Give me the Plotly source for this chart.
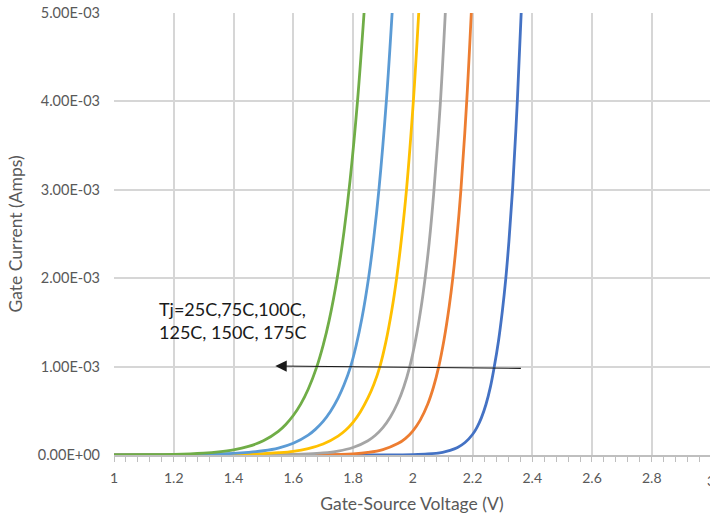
import plotly.graph_objects as go

# Gate current vs gate-source voltage, one curve per junction temperature.
# Currents are in milliamps here and converted to amps below.
v_25 = [1.00, 1.20, 1.40, 1.60, 1.80, 1.90, 2.00, 2.05, 2.10, 2.125, 2.15, 2.175, 2.20, 2.215, 2.23, 2.245, 2.26, 2.273, 2.287, 2.300, 2.311, 2.322, 2.334, 2.350, 2.363]
ma_25 = [0.0, 0.0, 0.0, 0.0, 0.0001, 0.0006, 0.0043, 0.0116, 0.031, 0.052, 0.085, 0.141, 0.232, 0.313, 0.423, 0.571, 0.771, 1.00, 1.29, 1.63, 1.98, 2.42, 3.00, 4.00, 5.00]

v_75 = [1.00, 1.20, 1.40, 1.50, 1.60, 1.70, 1.80, 1.85, 1.90, 1.95, 1.975, 2.00, 2.025, 2.05, 2.07, 2.087, 2.105, 2.122, 2.134, 2.147, 2.161, 2.181, 2.196]
ma_75 = [0.0, 0.0, 0.0, 0.0002, 0.0007, 0.003, 0.0135, 0.029, 0.061, 0.129, 0.186, 0.271, 0.395, 0.574, 0.775, 1.00, 1.31, 1.68, 2.00, 2.43, 2.99, 4.02, 5.00]

v_100 = [1.00, 1.20, 1.40, 1.50, 1.60, 1.65, 1.70, 1.75, 1.80, 1.85, 1.875, 1.90, 1.925, 1.95, 1.97, 1.99, 2.01, 2.028, 2.041, 2.055, 2.070, 2.092, 2.109]
ma_100 = [0.0, 0.0001, 0.0005, 0.0017, 0.0063, 0.012, 0.023, 0.044, 0.085, 0.162, 0.224, 0.31, 0.43, 0.594, 0.77, 1.00, 1.31, 1.67, 1.99, 2.40, 2.95, 3.96, 5.00]

v_125 = [1.00, 1.20, 1.30, 1.40, 1.50, 1.55, 1.60, 1.65, 1.70, 1.75, 1.775, 1.80, 1.825, 1.85, 1.87, 1.89, 1.91, 1.93, 1.946, 1.962, 1.979, 2.002, 2.020]
ma_125 = [0.0, 0.001, 0.002, 0.006, 0.016, 0.026, 0.042, 0.073, 0.124, 0.214, 0.28, 0.37, 0.49, 0.645, 0.80, 1.00, 1.28, 1.64, 2.00, 2.44, 3.00, 4.00, 5.00]

v_150 = [1.00, 1.10, 1.20, 1.30, 1.40, 1.45, 1.50, 1.55, 1.60, 1.65, 1.675, 1.70, 1.725, 1.75, 1.77, 1.792, 1.81, 1.83, 1.852, 1.87, 1.887, 1.912, 1.931]
ma_150 = [0.0, 0.0007, 0.002, 0.0057, 0.018, 0.03, 0.048, 0.079, 0.133, 0.225, 0.293, 0.38, 0.495, 0.643, 0.794, 1.00, 1.23, 1.55, 2.00, 2.47, 3.01, 4.02, 5.00]

v_175 = [1.00, 1.10, 1.20, 1.30, 1.35, 1.40, 1.45, 1.50, 1.55, 1.575, 1.60, 1.625, 1.65, 1.679, 1.70, 1.72, 1.748, 1.77, 1.79, 1.815, 1.837]
ma_175 = [0.001, 0.0027, 0.0075, 0.021, 0.035, 0.058, 0.097, 0.161, 0.268, 0.346, 0.447, 0.576, 0.744, 1.00, 1.24, 1.52, 2.02, 2.53, 3.10, 4.00, 5.00]

series_names = ["Tj=25C", "Tj=75C", "Tj=100C", "Tj=125C", "Tj=150C", "Tj=175C"]
series_v = [v_25, v_75, v_100, v_125, v_150, v_175]
series_ma = [ma_25, ma_75, ma_100, ma_125, ma_150, ma_175]
series_colors = ["#4472C4", "#ED7D31", "#A5A5A5", "#FFC000", "#5B9BD5", "#70AD47"]

y_ticks = [0.0, 1e-3, 2e-3, 3e-3, 4e-3, 5e-3]
y_tick_labels = ["0.00E+00", "1.00E-03", "2.00E-03", "3.00E-03", "4.00E-03", "5.00E-03"]
x_ticks = [1, 1.2, 1.4, 1.6, 1.8, 2, 2.2, 2.4, 2.6, 2.8]
x_tick_labels = ["1", "1.2", "1.4", "1.6", "1.8", "2", "2.2", "2.4", "2.6", "2.8"]

# Temperature callout and its arrow (tail on the right, head on the left)
callout_text = "Tj=25C,75C,100C,<br>125C, 150C, 175C"
arrow_tail = (2.367, 0.98e-3)
arrow_head = (1.54, 1.007e-3)

FONT = "Lato"
GREY = "#595959"
X_MAX = 2.995

fig = go.Figure()
for name, v, ma, c in zip(series_names, series_v, series_ma, series_colors):
    fig.add_trace(go.Scatter(
        x=v, y=[m * 1e-3 for m in ma], name=name, mode="lines",
        line=dict(color=c, width=2.8, shape="spline", smoothing=1.0),
        showlegend=False,
    ))

fig.add_annotation(
    x=arrow_head[0], y=arrow_head[1], ax=arrow_tail[0], ay=arrow_tail[1],
    xref="x", yref="y", axref="x", ayref="y",
    text="", showarrow=True, arrowhead=2, arrowsize=1.9, arrowwidth=1.2,
    arrowcolor="#1a1a1a",
)
fig.add_annotation(
    x=1.144, y=1.52e-3, xref="x", yref="y", xanchor="left", yanchor="middle",
    text=callout_text, showarrow=False, align="left",
    font=dict(family=FONT, size=18, color="#1a1a1a"),
)
# last tick label, sitting on the right edge
fig.add_annotation(
    x=(3 - 1) / (X_MAX - 1), y=0, xref="paper", yref="paper",
    xanchor="center", yanchor="top", yshift=-15,
    text="3", showarrow=False, font=dict(family=FONT, size=14, color=GREY),
)

fig.update_layout(
    width=710, height=516,
    margin=dict(l=114, r=0, t=13, b=61),
    paper_bgcolor="white", plot_bgcolor="white",
    font=dict(family=FONT, color=GREY),
)
fig.update_xaxes(
    range=[1, X_MAX], tickvals=x_ticks, ticktext=x_tick_labels,
    showgrid=True, gridcolor="#D6D6D6", gridwidth=1.5,
    showline=True, linecolor="#BFBFBF", linewidth=1.5,
    ticks="outside", ticklen=5, tickcolor="#BFBFBF", tickwidth=1,
    minor=dict(dtick=0.04, tick0=1, ticks="outside", ticklen=5, tickcolor="#BFBFBF", showgrid=False),
    tickfont=dict(family=FONT, size=14, color=GREY), ticklabelstandoff=4,
    title=dict(text="Gate-Source Voltage (V)", font=dict(family=FONT, size=17.5, color=GREY), standoff=13),
    zeroline=False, automargin=False,
)
fig.update_yaxes(
    range=[0, 5e-3], tickvals=y_ticks, ticktext=y_tick_labels,
    showgrid=True, gridcolor="#D6D6D6", gridwidth=1.5,
    showline=False, ticks="", zeroline=False,
    tickfont=dict(family=FONT, size=14.5, color=GREY), ticklabelstandoff=13,
    title=dict(text="Gate Current (Amps)", font=dict(family=FONT, size=17.5, color=GREY), standoff=10),
    automargin=False,
)

fig.write_html("out.html")
